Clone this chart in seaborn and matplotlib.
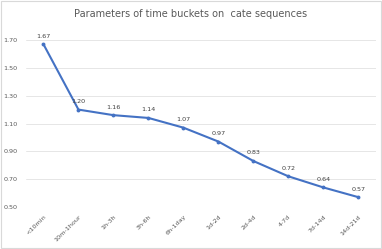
import matplotlib
matplotlib.use("Agg")
import matplotlib.pyplot as plt
import seaborn as sns
import pandas as pd

categories = ["<10min", "10m-1hour", "1h-3h", "3h-6h", "6h-1day", "1d-2d", "2d-4d", "4-7d", "7d-14d", "14d-21d"]
values = [1.67, 1.20, 1.16, 1.14, 1.07, 0.97, 0.83, 0.72, 0.64, 0.57]
yticks = [0.50, 0.70, 0.90, 1.10, 1.30, 1.50, 1.70]
title = "Parameters of time buckets on  cate sequences"

sns.set_theme(style="white")
plt.rcParams['font.family'] = ['DejaVu Sans']

df = pd.DataFrame({"cat": categories, "val": values, "x": range(len(categories))})

fig = plt.figure(figsize=(3.82, 2.49), dpi=100)
ax = fig.add_axes([0.068, 0.169, 0.916, 0.670])
sns.lineplot(data=df, x="x", y="val", ax=ax, color="#4472C4", linewidth=1.5,
             marker="o", markersize=2.8, markeredgewidth=0)
ax.set_xlim(-0.5, len(categories) - 0.5)
ax.set_ylim(0.5, 1.7)
ax.set_yticks(yticks)
ax.set_yticklabels([f"{v:.2f}" for v in yticks], fontsize=4.6, color="#595959")
ax.set_xticks(range(len(categories)))
ax.set_xticklabels(categories, rotation=45, ha="right", rotation_mode="anchor", fontsize=4.6, color="#595959")
ax.tick_params(axis="y", length=0, pad=6)
ax.tick_params(axis="x", length=0, pad=5)
ax.grid(axis="y", color="#E6E6E6", linewidth=0.7)
ax.set_axisbelow(True)
for s in ax.spines.values():
    s.set_visible(False)
ax.set_xlabel("")
ax.set_ylabel("")
for i, v in enumerate(values):
    ax.annotate(f"{v:.2f}", (i, v), xytext=(0, 4), textcoords="offset points",
                ha="center", va="bottom", fontsize=4.6, color="#404040")
fig.text(0.5, 0.945, title, ha="center", va="center", fontsize=7, color="#595959")
fig.patches.append(plt.Rectangle((0.002, 0.003), 0.995, 0.993, transform=fig.transFigure,
                                 fill=False, edgecolor="#D9D9D9", linewidth=0.8))
fig.savefig("out.png", dpi=100)
